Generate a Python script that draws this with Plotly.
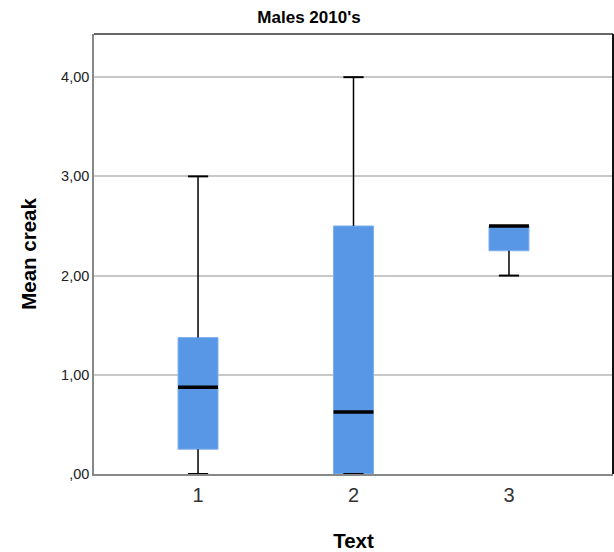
import plotly.graph_objects as go

categories = [1, 2, 3]
cat_labels = ["1", "2", "3"]
lower = [0.0, 0.0, 2.0]
q1 = [0.25, 0.0, 2.25]
median = [0.875, 0.625, 2.5]
q3 = [1.375, 2.5, 2.5]
upper = [3.0, 4.0, 2.5]
ytick_vals = [0, 1, 2, 3, 4]
ytick_text = [",00", "1,00", "2,00", "3,00", "4,00"]

BOX_W = 0.257
CAP_W = 0.13
FILL = "#5797E6"

fig = go.Figure()

# boxes
fig.add_trace(go.Bar(
    x=categories, y=[b - a for a, b in zip(q1, q3)], base=q1, width=BOX_W,
    marker=dict(color=FILL, line=dict(color="#7FB0EE", width=1)),
    showlegend=False, hoverinfo="skip"))

# whiskers
wx, wy = [], []
for c, lo, a, b, hi in zip(categories, lower, q1, q3, upper):
    wx += [c, c, None, c, c, None]
    wy += [lo, a, None, b, hi, None]
fig.add_trace(go.Scatter(x=wx, y=wy, mode="lines", line=dict(color="black", width=1.5),
                         showlegend=False, hoverinfo="skip"))

# caps
cx, cy = [], []
for c, lo, a, b, hi in zip(categories, lower, q1, q3, upper):
    if hi > b:
        cx += [c - CAP_W / 2, c + CAP_W / 2, None]
        cy += [hi, hi, None]
    cx += [c - CAP_W / 2, c + CAP_W / 2, None]
    cy += [lo, lo, None]
fig.add_trace(go.Scatter(x=cx, y=cy, mode="lines", line=dict(color="black", width=2),
                         showlegend=False, hoverinfo="skip"))

# medians
mx, my = [], []
for c, m in zip(categories, median):
    mx += [c - BOX_W / 2, c + BOX_W / 2, None]
    my += [m, m, None]
fig.add_trace(go.Scatter(x=mx, y=my, mode="lines", line=dict(color="black", width=3.5),
                         showlegend=False, hoverinfo="skip"))

fig.update_layout(
    width=614, height=552,
    margin=dict(l=94, r=1, t=34, b=78),
    paper_bgcolor="white", plot_bgcolor="white",
    font=dict(family="Liberation Sans, Arial, sans-serif", color="black"),
    title=dict(text="<b>Males 2010's</b>", x=309 / 614, xanchor="center", y=1 - 17.5 / 552,
               yanchor="middle", font=dict(size=17, color="black")),
    xaxis=dict(range=[0.331, 3.669], tickvals=categories, ticktext=cat_labels,
               showgrid=False, zeroline=False, showline=True, linecolor="#888888",
               linewidth=1.5, ticks="", tickfont=dict(size=20, color="#333333"),
               ticklabelstandoff=2,
               title=dict(text="<b>Text</b>", font=dict(size=20.5, color="black"), standoff=32)),
    yaxis=dict(range=[0, 4.435], tickvals=ytick_vals, ticktext=ytick_text,
               showgrid=True, gridcolor="#C8C8C8", gridwidth=1.5, zeroline=False,
               showline=True, linecolor="#888888", linewidth=1.5, ticks="",
               tickfont=dict(size=14.5, color="#222222"),
               title=dict(text="<b>Mean creak</b>", font=dict(size=20.5, color="black"), standoff=19)),
    shapes=[
        dict(type="line", xref="paper", yref="paper", x0=0, x1=1, y0=1, y1=1,
             line=dict(color="#333333", width=1.5)),
        dict(type="line", xref="paper", yref="paper", x0=1, x1=1, y0=0, y1=1,
             line=dict(color="#111111", width=2)),
    ],
)

fig.write_html("out.html")
